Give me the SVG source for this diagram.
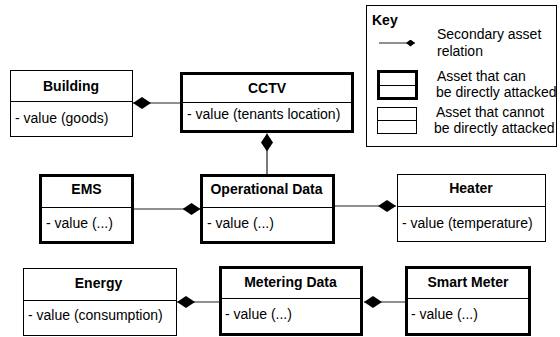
<svg xmlns="http://www.w3.org/2000/svg" width="560" height="337" viewBox="0 0 560 337">
<style>
  .box{fill:#fff;stroke:#000;stroke-width:1}
  .thick{fill:#fff;stroke:#000;stroke-width:3}
  .div{stroke:#000;stroke-width:1}
  .title{font-family:"Liberation Sans",Arial,sans-serif;font-size:14px;font-weight:bold;text-anchor:middle;fill:#000}
  .attr{font-family:"Liberation Sans",Arial,sans-serif;font-size:14px;fill:#000}
  .key{font-family:"Liberation Sans",Arial,sans-serif;font-size:14px;fill:#000}
  .keyt{font-family:"Liberation Sans",Arial,sans-serif;font-size:14px;font-weight:bold;fill:#000}
  .conn{stroke:#222;stroke-width:1.2;fill:none}
</style>
<defs>
  <marker id="dia" viewBox="0 0 18 12" refX="18" refY="6" markerWidth="18" markerHeight="12" markerUnits="userSpaceOnUse" orient="auto">
    <path d="M0,6 L9,0 L18,6 L9,12 Z" fill="#000"/>
  </marker>
  <marker id="diaS" viewBox="0 0 9 7" refX="9" refY="3.5" markerWidth="9" markerHeight="7" markerUnits="userSpaceOnUse" orient="auto">
    <path d="M0,3.5 L4.5,0 L9,3.5 L4.5,7 Z" fill="#000"/>
  </marker>
</defs>
<rect width="560" height="337" fill="#fff"/>

<g id="connectors">
  <line class="conn" x1="181" y1="103" x2="133" y2="103" marker-end="url(#dia)"/>
  <line class="conn" x1="267" y1="175" x2="267" y2="133.5" marker-end="url(#dia)"/>
  <line class="conn" x1="133" y1="209" x2="200.5" y2="209" marker-end="url(#dia)"/>
  <line class="conn" x1="334" y1="206" x2="396" y2="206" marker-end="url(#dia)"/>
  <line class="conn" x1="219" y1="302" x2="177" y2="302" marker-end="url(#dia)"/>
  <line class="conn" x1="405" y1="302" x2="364" y2="302" marker-end="url(#dia)"/>
</g>

<g id="building">
  <rect class="box" x="10.5" y="70.5" width="122" height="66"/>
  <line class="div" x1="10.5" y1="101.5" x2="132.5" y2="101.5"/>
  <text class="title" x="71" y="90.5">Building</text>
  <text class="attr" x="15" y="122.5">- value (goods)</text>
</g>

<g id="cctv">
  <rect class="thick" x="181.5" y="73.5" width="171" height="58"/>
  <line class="div" x1="181.5" y1="102.5" x2="352.5" y2="102.5"/>
  <text class="title" x="267" y="93">CCTV</text>
  <text class="attr" x="187" y="118.5">- value (tenants location)</text>
</g>

<g id="ems">
  <rect class="thick" x="40.5" y="175.5" width="92" height="67"/>
  <line class="div" x1="40.5" y1="207.5" x2="132.5" y2="207.5"/>
  <text class="title" x="86.5" y="194">EMS</text>
  <text class="attr" x="46" y="228">- value (...)</text>
</g>

<g id="operational-data">
  <rect class="thick" x="201.5" y="175.5" width="132" height="67"/>
  <line class="div" x1="201.5" y1="207.5" x2="333.5" y2="207.5"/>
  <text class="title" x="266.5" y="194">Operational Data</text>
  <text class="attr" x="207" y="228">- value (...)</text>
</g>

<g id="heater">
  <rect class="box" x="397.5" y="174.5" width="148" height="67"/>
  <line class="div" x1="397.5" y1="206.5" x2="545.5" y2="206.5"/>
  <text class="title" x="471" y="193">Heater</text>
  <text class="attr" x="402" y="228">- value (temperature)</text>
</g>

<g id="energy">
  <rect class="box" x="23.5" y="268.5" width="153" height="67"/>
  <line class="div" x1="23.5" y1="300.5" x2="176.5" y2="300.5"/>
  <text class="title" x="98.5" y="287.5">Energy</text>
  <text class="attr" x="28" y="320">- value (consumption)</text>
</g>

<g id="metering-data">
  <rect class="thick" x="220.5" y="267.5" width="141" height="67"/>
  <line class="div" x1="220.5" y1="298.5" x2="361.5" y2="298.5"/>
  <text class="title" x="290.5" y="286.5">Metering Data</text>
  <text class="attr" x="225" y="319">- value (...)</text>
</g>

<g id="smart-meter">
  <rect class="thick" x="406.5" y="267.5" width="123" height="67"/>
  <line class="div" x1="406.5" y1="298.5" x2="529.5" y2="298.5"/>
  <text class="title" x="468" y="286.5">Smart Meter</text>
  <text class="attr" x="411" y="319">- value (...)</text>
</g>

<g id="key">
  <rect class="box" x="366.5" y="5.5" width="190" height="141"/>
  <text class="keyt" x="372" y="25">Key</text>
  <line class="conn" x1="379" y1="43" x2="415" y2="43" marker-end="url(#diaS)"/>
  <text class="key" x="437" y="39">Secondary asset</text>
  <text class="key" x="437" y="56">relation</text>
  <rect class="thick" x="378.5" y="71.5" width="38" height="27"/>
  <line class="div" x1="378.5" y1="85.5" x2="416.5" y2="85.5"/>
  <text class="key" x="437" y="81">Asset that can</text>
  <text class="key" x="436" y="97">be directly attacked</text>
  <rect class="box" x="377.5" y="107.5" width="39" height="26"/>
  <line class="div" x1="377.5" y1="120.5" x2="416.5" y2="120.5"/>
  <text class="key" x="436" y="117">Asset that cannot</text>
  <text class="key" x="434" y="133">be directly attacked</text>
</g>
</svg>
